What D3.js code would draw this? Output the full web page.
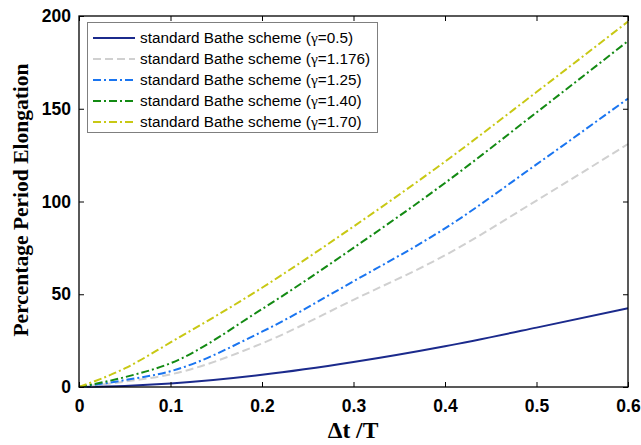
<!DOCTYPE html>
<html>
<head>
<meta charset="utf-8">
<script src="https://cdn.jsdelivr.net/npm/d3@7"></script>
<style>
body { margin: 0; background: #fff; }
svg { display: block; }
.tick text { font-family: Arial, "Liberation Sans", sans-serif; font-weight: bold; font-size: 17.5px; fill: #000; }
</style>
</head>
<body>
<svg id="chart" width="641" height="445"></svg>
<script>
// values
var dtT = [0, 0.05, 0.1, 0.2, 0.3, 0.4, 0.5, 0.6];
var pe_050 = [0, 0.6, 1.9, 6.6, 13.5, 22.0, 32.0, 42.5];
var pe_1176 = [0, 2.9, 6.8, 23.5, 47.0, 71.0, 100.5, 131.0];
var pe_125 = [0, 3.7, 8.5, 29.8, 57.0, 85.5, 120.0, 155.5];
var pe_140 = [0, 5.3, 12.8, 42.0, 75.0, 110.0, 148.0, 186.5];
var pe_170 = [0, 10.0, 24.0, 53.5, 86.5, 121.5, 159.0, 197.0];

var gammas = ['0.5', '1.176', '1.25', '1.40', '1.70'];
var xTicks = [0, 0.1, 0.2, 0.3, 0.4, 0.5, 0.6];
var yTicks = [0, 50, 100, 150, 200];

var series = [
	{g: gammas[0], v: pe_050, color: '#1b2a8c', dash: null},
	{g: gammas[1], v: pe_1176, color: '#d0d0d0', dash: '8,4'},
	{g: gammas[2], v: pe_125, color: '#1a75f0', dash: '8,3,2,3'},
	{g: gammas[3], v: pe_140, color: '#138a13', dash: '8,3,2,3'},
	{g: gammas[4], v: pe_170, color: '#c8c814', dash: '8,3,2,3'}
];

var m = {left: 79, right: 628, top: 16, bottom: 387};
var svg = d3.select('#chart');

var x = d3.scaleLinear().domain([0, 0.6]).range([m.left, m.right]);
var y = d3.scaleLinear().domain([0, 200]).range([m.bottom, m.top]);

// curves first, box on top
var line = d3.line()
	.x(function(d){return x(d[0])})
	.y(function(d){return y(d[1])})
	.curve(d3.curveMonotoneX);

svg.append('g').selectAll('path').data(series).enter()
	.append('path')
		.attr('d', function(s){return line(dtT.map(function(t, i){return [t, s.v[i]]}))})
		.attr('fill', 'none')
		.attr('stroke', function(s){return s.color})
		.attr('stroke-width', 2)
		.attr('stroke-dasharray', function(s){return s.dash});

// axes, ticks pointing in
var xAxis = d3.axisBottom(x).tickValues(xTicks).tickSizeInner(-5).tickSizeOuter(0).tickPadding(13)
	.tickFormat(function(d){return d === 0 ? '0' : d3.format('.1f')(d)});
var yAxis = d3.axisLeft(y).tickValues(yTicks).tickSizeInner(-5).tickSizeOuter(0).tickPadding(8);

svg.append('g').attr('transform', 'translate(0,' + m.bottom + ')').call(xAxis)
	.call(function(g){g.select('.domain').remove()});
svg.append('g').attr('transform', 'translate(' + m.left + ',0)').call(yAxis)
	.call(function(g){g.select('.domain').remove()});
svg.append('g').attr('transform', 'translate(0,' + m.top + ')')
	.call(d3.axisTop(x).tickValues(xTicks).tickSizeInner(-5).tickSizeOuter(0).tickFormat(''))
	.call(function(g){g.select('.domain').remove()});
svg.append('g').attr('transform', 'translate(' + m.right + ',0)')
	.call(d3.axisRight(y).tickValues(yTicks).tickSizeInner(-5).tickSizeOuter(0).tickFormat(''))
	.call(function(g){g.select('.domain').remove()});
svg.selectAll('.tick line').attr('stroke', '#000').attr('stroke-width', 1);

svg.append('rect')
	.attr('x', m.left).attr('y', m.top)
	.attr('width', m.right - m.left).attr('height', m.bottom - m.top)
	.attr('fill', 'none').attr('stroke', '#000').attr('stroke-width', 1.3);

// axis titles
svg.append('text')
	.attr('x', 353).attr('y', 438)
	.attr('text-anchor', 'middle')
	.style('font-family', '"Liberation Serif", "Times New Roman", serif')
	.style('font-weight', 'bold').style('font-size', '23.5px')
	.text('\u0394t /T');
svg.append('text')
	.attr('transform', 'translate(28,200) rotate(-90)')
	.attr('text-anchor', 'middle')
	.style('font-family', '"Liberation Serif", "Times New Roman", serif')
	.style('font-weight', 'bold').style('font-size', '21.5px')
	.text('Percentage Period Elongation');

// legend
var lg = svg.append('g');
lg.append('rect')
	.attr('x', 87.5).attr('y', 22.5).attr('width', 290).attr('height', 110)
	.attr('fill', '#fff').attr('stroke', '#7f7f7f').attr('stroke-width', 1);
var rows = lg.selectAll('g.row').data(series).enter()
	.append('g').attr('class', 'row')
	.attr('transform', function(d, i){return 'translate(0,' + (38 + i*21) + ')'});
rows.append('line')
	.attr('x1', 93).attr('x2', 135).attr('y1', 0).attr('y2', 0)
	.attr('stroke', function(d){return d.color})
	.attr('stroke-width', 2)
	.attr('stroke-dasharray', function(d){return d.dash});
var t = rows.append('text')
	.attr('x', 140).attr('y', 5)
	.style('font-family', 'Arial, "Liberation Sans", sans-serif')
	.style('font-size', '15.3px').style('fill', '#000');
t.append('tspan').text('standard Bathe scheme (');
t.append('tspan').style('font-family', '"Liberation Serif", "Times New Roman", serif').style('font-size', '15.5px').text('\u03b3');
t.append('tspan').text(function(d){return '=' + d.g + ')'});
</script>
</body>
</html>
